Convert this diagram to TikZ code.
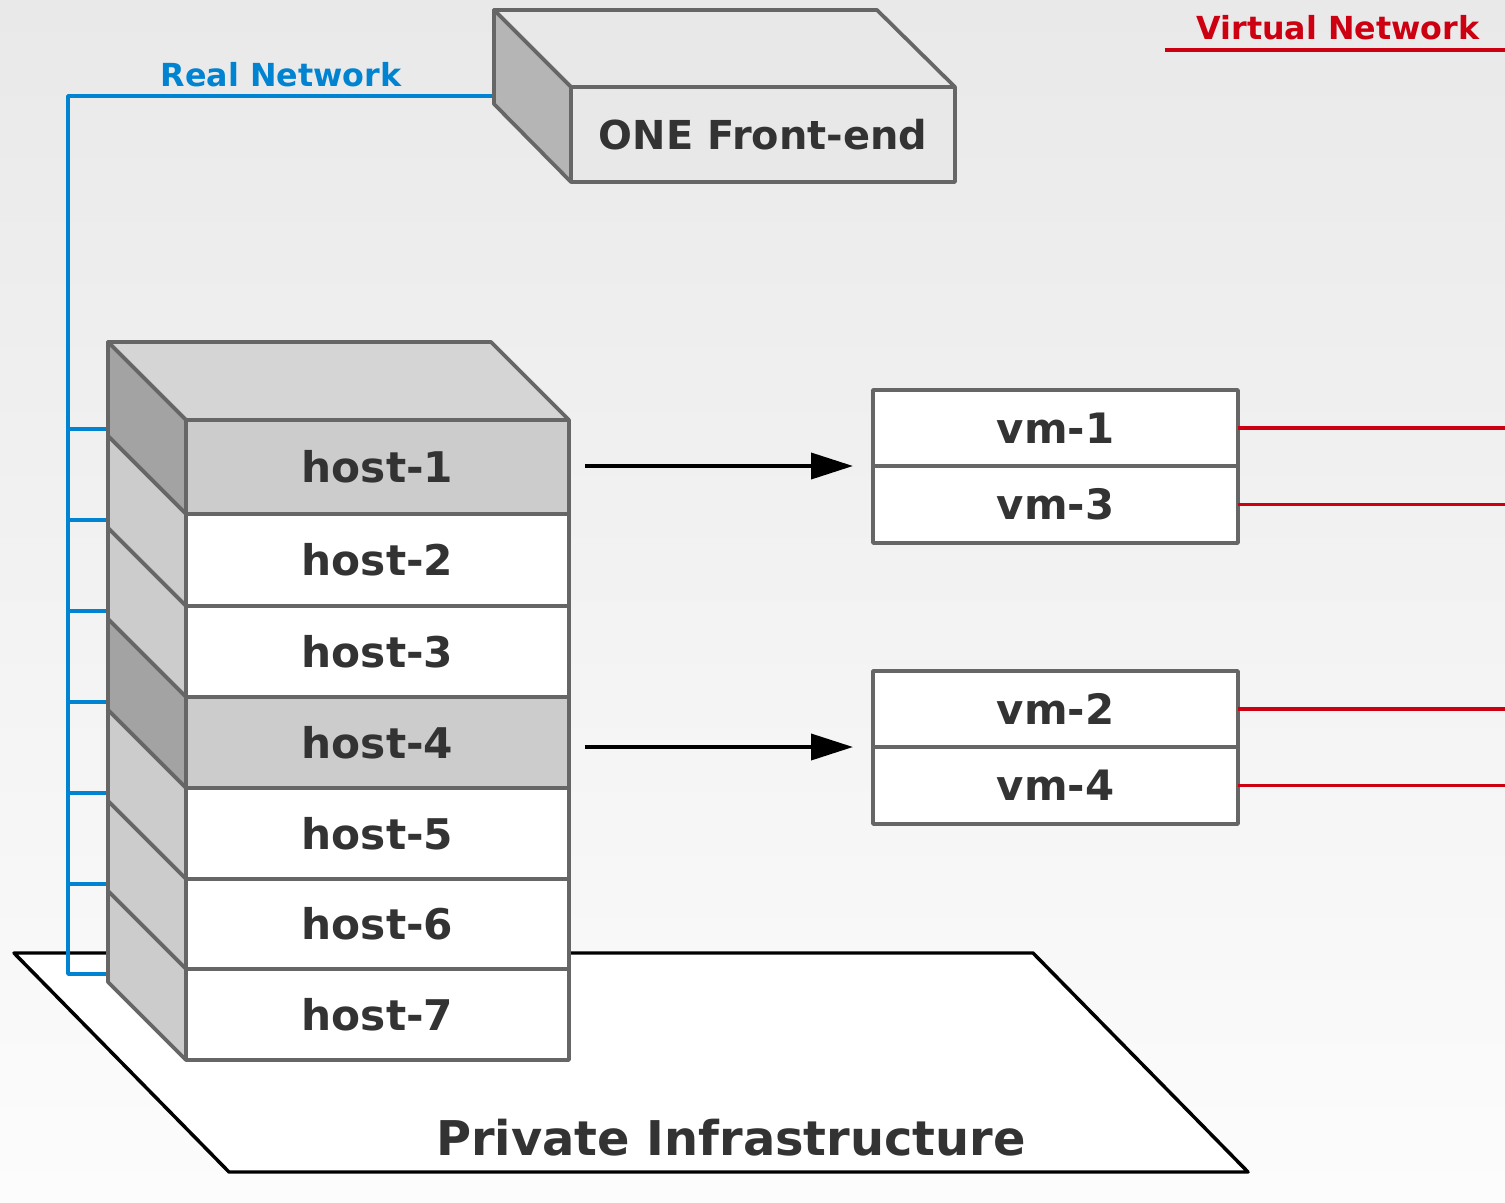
\documentclass[tikz,border=0pt]{standalone}
\usepackage{fontspec}
\setmainfont{DejaVu Sans}
\usetikzlibrary{arrows.meta,calc}
\definecolor{txt}{HTML}{333333}
\definecolor{gr}{HTML}{666666}
\definecolor{netblue}{RGB}{0,131,208}
\definecolor{netred}{RGB}{204,0,17}
\definecolor{bgtop}{HTML}{E9E9E9}
\definecolor{bgbot}{HTML}{FCFCFC}
\definecolor{fefront}{HTML}{E8E8E8}
\definecolor{feside}{HTML}{B5B5B5}
\definecolor{hosttop}{HTML}{D5D5D5}
\definecolor{hostsel}{HTML}{CCCCCC}
\definecolor{sidedark}{HTML}{A3A3A3}
\definecolor{sidelight}{HTML}{CCCCCC}
\tikzset{
  box/.style={draw=gr, line width=2.8pt, inner sep=0pt, outer sep=0pt, anchor=north west, text=txt},
  hostbox/.style={box, fill=white, minimum width=287.25pt, font=\bfseries\fontsize{31.7}{36}\selectfont},
  vmbox/.style={box, fill=white, minimum width=273.75pt, font=\bfseries\fontsize{31.4}{36}\selectfont},
  face/.style={draw=gr, line width=2.8pt},
  bluenet/.style={draw=netblue, line width=2.8pt},
  rednet/.style={draw=netred, line width=2.5pt},
  netlabel/.style={font=\bfseries\fontsize{23.8}{28}\selectfont, anchor=base},
  maparrow/.style={line width=2.8pt, -{Triangle[length=31.5pt,width=19.5pt]}},
}
\begin{document}
\begin{tikzpicture}[x=0.75pt,y=-0.75pt,line join=round]
\useasboundingbox (0,0) rectangle (1505,1202);
\shade[top color=bgtop,bottom color=bgbot] (0,0) rectangle (1505,1202);

% platform
\draw[black,line width=2.6pt,fill=white] (14,953) -- (1033,953) -- (1248,1172) -- (229,1172) -- cycle;
\node[font=\bfseries\fontsize{35.9}{42}\selectfont, text=txt, anchor=base] (pinfra) at (731,1155) {Private Infrastructure};

% real network bus
\coordinate (feL) at (494,96);
\coordinate (busTop) at (68,96);
\coordinate (busBot) at (68,974);
\foreach \i/\y in {1/429,2/520,3/611,4/702,5/793,6/884,7/974}{
  \coordinate (stub\i) at (108,\y);
}
\draw[bluenet] (feL) -- (busTop) -- (busBot) -- (stub7);
\foreach \i/\y in {1/429,2/520,3/611,4/702,5/793,6/884}{
  \draw[bluenet] (68,\y) -- (stub\i);
}
\node[netlabel, text=netblue] (rnlabel) at (281,87) {Real Network};

% front-end
\filldraw[face, fill=fefront] (494,10) -- (877,10) -- (955,87) -- (571,87) -- cycle;
\filldraw[face, fill=feside] (494,10) -- (571,87) -- (571,182) -- (494,104) -- cycle;
\node[box, fill=fefront, minimum width=288pt, minimum height=71.25pt,
      font=\bfseries\fontsize{29.9}{34}\selectfont] (fe) at (571,87) {ONE Front-end};

% host stack
\filldraw[face, fill=hosttop] (108,342) -- (491,342) -- (569,420) -- (186,420) -- cycle;
\foreach \t/\b/\c in {420/514/sidedark,514/606/sidelight,606/697/sidelight,697/788/sidedark,788/879/sidelight,879/969/sidelight,969/1060/sidelight}{
  \filldraw[face, fill=\c] (108,\t-78) -- (186,\t) -- (186,\b) -- (108,\b-78) -- cycle;
}
\node[hostbox, fill=hostsel, minimum height=70.5pt] (h1) at (186,420) {host-1};
\node[hostbox, minimum height=69pt] (h2) at (186,514) {host-2};
\node[hostbox, minimum height=68.25pt] (h3) at (186,606) {host-3};
\node[hostbox, fill=hostsel, minimum height=68.25pt] (h4) at (186,697) {host-4};
\node[hostbox, minimum height=68.25pt] (h5) at (186,788) {host-5};
\node[hostbox, minimum height=67.5pt] (h6) at (186,879) {host-6};
\node[hostbox, minimum height=68.25pt] (h7) at (186,969) {host-7};

% VMs
\node[vmbox, minimum height=57pt] (vm1) at (873,390) {vm-1};
\node[vmbox, minimum height=57.75pt] (vm3) at (873,466) {vm-3};
\node[vmbox, minimum height=57pt] (vm2) at (873,671) {vm-2};
\node[vmbox, minimum height=57.75pt] (vm4) at (873,747) {vm-4};

% mapping arrows
\draw[maparrow] ($(h1.east |- vm1.south west)+(16,0)$) -- ($(vm1.south west)+(-20,0)$);
\draw[maparrow] ($(h4.east |- vm2.south west)+(16,0)$) -- ($(vm2.south west)+(-20,0)$);

% virtual network
\coordinate (rEdge) at (1505,0);
\foreach \v in {vm1,vm3,vm2,vm4}{
  \draw[rednet] (\v.east) -- (\v.east -| rEdge);
}
\coordinate (vnL) at (1165,50);
\coordinate (vnR) at (1505,50);
\draw[rednet] (vnL) -- (vnR);
\node[netlabel, text=netred] (vnlabel) at (1338,40) {Virtual Network};
\end{tikzpicture}
\end{document}
